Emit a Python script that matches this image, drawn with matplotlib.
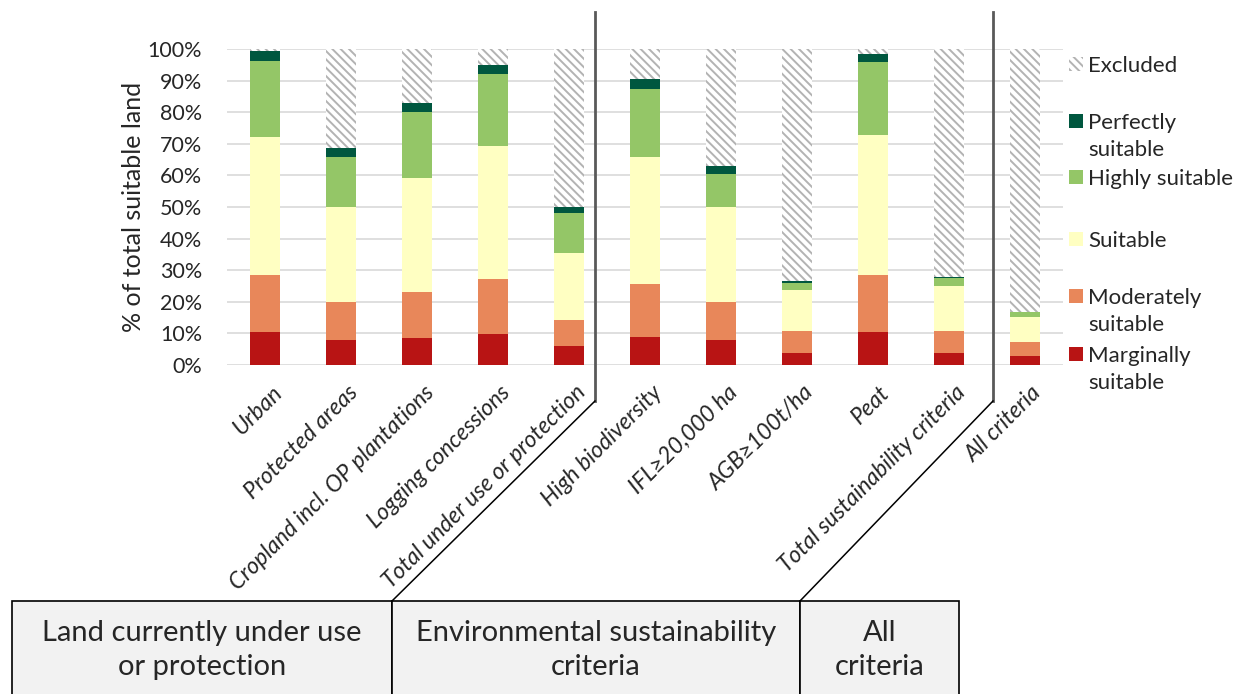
import matplotlib
matplotlib.use("Agg")
import matplotlib.pyplot as plt
from matplotlib.patches import Rectangle
from matplotlib.lines import Line2D
from matplotlib.transforms import ScaledTranslation
import numpy as np

plt.rcParams["font.family"] = ["Lato", "DejaVu Sans"]
plt.rcParams["hatch.linewidth"] = 1.4

categories = [
    "Urban", "Protected areas", "Cropland incl. OP plantations",
    "Logging concessions", "Total under use or protection",
    "High biodiversity", "IFL\u226520,000 ha", "AGB\u2265100t/ha", "Peat",
    "Total sustainability criteria", "All criteria",
]

# share of total suitable land, %
marginally = [10.3, 7.9, 8.4, 9.8, 6.0, 9.0, 7.9, 3.9, 10.3, 3.9, 3.0]
moderately = [18.2, 12.1, 14.6, 17.3, 8.2, 16.5, 12.1, 6.9, 18.2, 6.9, 4.3]
suitable = [43.8, 30.1, 36.1, 42.2, 21.2, 40.3, 30.1, 12.8, 44.2, 14.3, 7.9]
highly = [24.0, 15.7, 21.0, 22.7, 12.8, 21.6, 10.3, 2.2, 23.1, 2.3, 1.5]
perfectly = [3.1, 3.0, 2.9, 2.8, 1.9, 3.1, 2.6, 0.8, 2.5, 0.6, 0.1]
excluded = [0.6, 31.2, 17.0, 5.2, 49.9, 9.5, 37.0, 73.4, 1.7, 72.0, 83.2]

series = [
    ("Marginally\nsuitable", marginally, "#b81414"),
    ("Moderately\nsuitable", moderately, "#e8875a"),
    ("Suitable", suitable, "#ffffc2"),
    ("Highly suitable", highly, "#94c667"),
    ("Perfectly\nsuitable", perfectly, "#00573f"),
]

groups = ["Land currently under use\nor protection",
          "Environmental sustainability\ncriteria",
          "All\ncriteria"]

W, H = 1239, 694
fig = plt.figure(figsize=(W / 100, H / 100), dpi=100)


def fx(px):
    return px / W


def fy(py):
    return 1 - py / H


ax = fig.add_axes([fx(227), fy(365), fx(1063) - fx(227), fy(49) - fy(365)])

x = np.arange(len(categories))
bottom = np.zeros(len(categories))
for label, vals, color in series:
    ax.bar(x, vals, 0.4, bottom=bottom, color=color, edgecolor="none", zorder=3)
    bottom += np.array(vals)
ax.bar(x, excluded, 0.4, bottom=bottom, color="white", edgecolor="#b3b3b3",
       linewidth=0, hatch="\\\\\\\\", zorder=3)

ax.set_xlim(-0.5, len(categories) - 0.5)
ax.set_ylim(0, 100)
ax.set_yticks(np.arange(0, 101, 10))
ax.set_yticklabels([f"{v}%" for v in range(0, 101, 10)], fontsize=15.5, color="#262626")
ax.yaxis.grid(True, color="#d9d9d9", linewidth=1.2, zorder=0)
ax.set_axisbelow(True)
for s in ax.spines.values():
    s.set_visible(False)
ax.tick_params(axis="y", length=0, pad=18)
ax.tick_params(axis="x", length=0, pad=12)
ax.set_xticks(x)
ax.set_xticklabels(categories, rotation=45, ha="right", va="top",
                   rotation_mode="anchor", fontsize=16.5, style="italic", color="#262626")
shift = ScaledTranslation(6 / 100, 0, fig.dpi_scale_trans)
for lbl in ax.get_xticklabels():
    lbl.set_transform(lbl.get_transform() + shift)
ax.set_ylabel("% of total suitable land", fontsize=18, color="#262626", labelpad=2)

# legend drawn by hand so that wrapped labels start beside the swatch
leg_rows = [
    ("Excluded", None, 64),
    ("Perfectly\nsuitable", "#00573f", 121),
    ("Highly suitable", "#94c667", 177),
    ("Suitable", "#ffffc2", 239),
    ("Moderately\nsuitable", "#e8875a", 296),
    ("Marginally\nsuitable", "#b81414", 354),
]
for text, color, yc in leg_rows:
    if color is None:
        sw = Rectangle((fx(1069), fy(yc + 7)), fx(14), fy(0) - fy(14),
                       transform=fig.transFigure, facecolor="white",
                       edgecolor="#b3b3b3", linewidth=0, hatch="\\\\\\\\")
    else:
        sw = Rectangle((fx(1069), fy(yc + 7)), fx(14), fy(0) - fy(14),
                       transform=fig.transFigure, facecolor=color, edgecolor="none")
    fig.add_artist(sw)
    fig.text(fx(1088), fy(yc - 8), text, fontsize=16, color="#262626",
             ha="left", va="top", linespacing=1.45)

# group dividers
for xv, xb in [(595, 392), (993, 800)]:
    fig.add_artist(Line2D([fx(xv), fx(xv)], [fy(12), fy(401)],
                          transform=fig.transFigure, color="#595959", linewidth=2))
    fig.add_artist(Line2D([fx(xv), fx(xb)], [fy(401), fy(601)],
                          transform=fig.transFigure, color="black", linewidth=1.1))

# group boxes
bounds = [12, 392, 800, 959]
for i, name in enumerate(groups):
    x0, x1 = bounds[i], bounds[i + 1]
    fig.add_artist(Rectangle((fx(x0), fy(710)), fx(x1 - x0), fy(601) - fy(710),
                             transform=fig.transFigure, facecolor="#f2f2f2",
                             edgecolor="black", linewidth=1.2))
    fig.text(fx((x0 + x1) / 2), fy(650), name, fontsize=21, color="#262626",
             ha="center", va="center", linespacing=1.38)

fig.savefig("out.png", dpi=100)
